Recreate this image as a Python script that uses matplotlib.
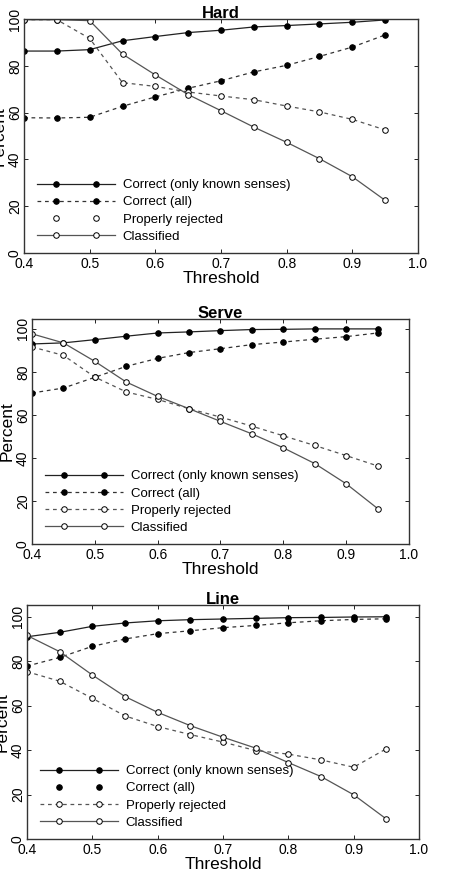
import numpy as np
import matplotlib
matplotlib.use("Agg")
import matplotlib.pyplot as plt
from matplotlib.lines import Line2D
from matplotlib.legend_handler import HandlerLine2D

plt.rcParams['font.family'] = ['Liberation Sans', 'DejaVu Sans']

# thresholds shared by all three panels
threshold = [0.40, 0.45, 0.50, 0.55, 0.60, 0.65, 0.70, 0.75, 0.80, 0.85, 0.90, 0.95]

# Hard
hard_known = [86.3, 86.3, 86.9, 90.7, 92.5, 94.2, 95.2, 96.6, 97.2, 97.9, 98.6, 99.6]
hard_all = [57.8, 57.7, 58.0, 62.7, 66.7, 70.4, 73.6, 77.4, 80.2, 84.0, 88.0, 93.2]
hard_rejected = [99.7, 99.7, 91.7, 72.8, 71.2, 68.8, 67.1, 65.5, 62.8, 60.3, 57.1, 52.6]
hard_classified = [99.7, 99.7, 99.3, 85.0, 76.1, 67.7, 60.8, 53.8, 47.3, 40.3, 32.6, 22.5]

# Serve
serve_known = [93.0, 93.5, 95.0, 96.6, 98.1, 98.6, 99.2, 99.7, 99.8, 100.0, 100.0, 100.0]
serve_all = [70.2, 72.5, 77.5, 82.6, 86.3, 89.0, 90.8, 92.7, 93.9, 95.2, 96.4, 98.1]
serve_rejected = [91.6, 87.7, 77.6, 70.7, 67.2, 62.9, 59.0, 54.8, 50.3, 45.8, 41.1, 36.3]
serve_classified = [97.7, 93.5, 84.9, 75.3, 68.6, 62.9, 57.0, 51.2, 44.7, 37.4, 28.0, 16.5]

# Line
line_known = [91.0, 93.0, 95.7, 97.2, 98.2, 98.7, 99.0, 99.3, 99.6, 99.7, 99.9, 100.0]
line_all = [77.8, 81.7, 86.7, 90.0, 92.4, 93.7, 95.1, 96.1, 97.3, 98.2, 98.8, 99.1]
line_rejected = [75.3, 71.0, 63.3, 55.4, 50.6, 47.0, 43.6, 39.8, 38.2, 35.6, 32.3, 40.6]
line_classified = [91.6, 84.3, 73.8, 64.1, 57.0, 51.0, 45.8, 40.9, 34.4, 28.1, 19.9, 9.0]

series_names = ['Correct (only known senses)', 'Correct (all)', 'Properly rejected', 'Classified']


class EndsHandler(HandlerLine2D):
    # full-width line in the legend, two markers set in from the ends
    def __init__(self, show_line=True, **kw):
        super().__init__(**kw)
        self.show_line = show_line

    def create_artists(self, legend, orig_handle, xdescent, ydescent,
                       width, height, fontsize, trans):
        y = (height - ydescent) / 2
        x0, x1 = -xdescent, -xdescent + width
        pad = 1.45 * fontsize
        line = Line2D([x0, x1], [y, y])
        self.update_prop(line, orig_handle, legend)
        line.set_marker('None')
        if not self.show_line:
            line.set_linestyle('None')
        mk = Line2D([x0 + pad, x1 - pad], [y, y])
        self.update_prop(mk, orig_handle, legend)
        mk.set_linestyle('None')
        line.set_transform(trans)
        mk.set_transform(trans)
        return [line, mk]


# title, series, axes rect (fig fraction), y top, legend entries drawn without line
panels = [
    ('Hard', [hard_known, hard_all, hard_rejected, hard_classified],
     [24/452, 621/874, 394/452, 234/874], 100, [2]),
    ('Serve', [serve_known, serve_all, serve_rejected, serve_classified],
     [32/452, 330/874, 377/452, 225/874], 104.6, []),
    ('Line', [line_known, line_all, line_rejected, line_classified],
     [27/452, 35/874, 392/452, 234/874], 105.3, [1]),
]

styles = [
    dict(ls='-', mfc='black', color='#222222'),
    dict(ls=(0, (3, 3)), mfc='black', color='#333333'),
    dict(ls=(0, (3, 3)), mfc='white', color='#555555'),
    dict(ls='-', mfc='white', color='#555555'),
]

fig = plt.figure(figsize=(4.52, 8.74), dpi=100)

for title, data, rect, ytop, no_line in panels:
    ax = fig.add_axes(rect)
    handles = []
    for vals, name, st in zip(data, series_names, styles):
        h, = ax.plot(threshold, vals, linestyle=st['ls'], color=st['color'], lw=0.9,
                     marker='o', markersize=4, markerfacecolor=st['mfc'],
                     markeredgecolor='black', markeredgewidth=0.7, label=name)
        handles.append(h)
    ax.set_xlim(0.4, 1.0)
    ax.set_ylim(0, ytop)
    ax.set_xticks([0.4, 0.5, 0.6, 0.7, 0.8, 0.9, 1.0])
    ax.set_xticklabels(['0.4', '0.5', '0.6', '0.7', '0.8', '0.9', '1.0'])
    ax.set_yticks([0, 20, 40, 60, 80, 100])
    ax.tick_params(axis='both', direction='in', length=3, width=0.6,
                   top=True, right=True, labelsize=10)
    ax.tick_params(axis='x', pad=3)
    ax.tick_params(axis='y', pad=1.5)
    for lab in ax.get_yticklabels():
        lab.set_rotation(90)
        lab.set_va('center')
    for sp in ax.spines.values():
        sp.set_linewidth(1.0)
        sp.set_color('#333333')
    ax.set_xlabel('Threshold', fontsize=12.5, labelpad=0)
    ax.set_ylabel('Percent', fontsize=12.5, labelpad=1)
    ax.set_title(title, fontsize=12, fontweight='bold', pad=1)

    hmap = {h: EndsHandler(show_line=(i not in no_line)) for i, h in enumerate(handles)}
    ax.legend(handles=handles, loc='lower left', frameon=False, fontsize=9.5,
              handlelength=5.9, handletextpad=0.6, labelspacing=0.38,
              borderaxespad=0, borderpad=0,
              bbox_to_anchor=(13 / (rect[2] * 452), 10 / (rect[3] * 874)),
              handler_map=hmap)

fig.savefig('out.png', dpi=100)
